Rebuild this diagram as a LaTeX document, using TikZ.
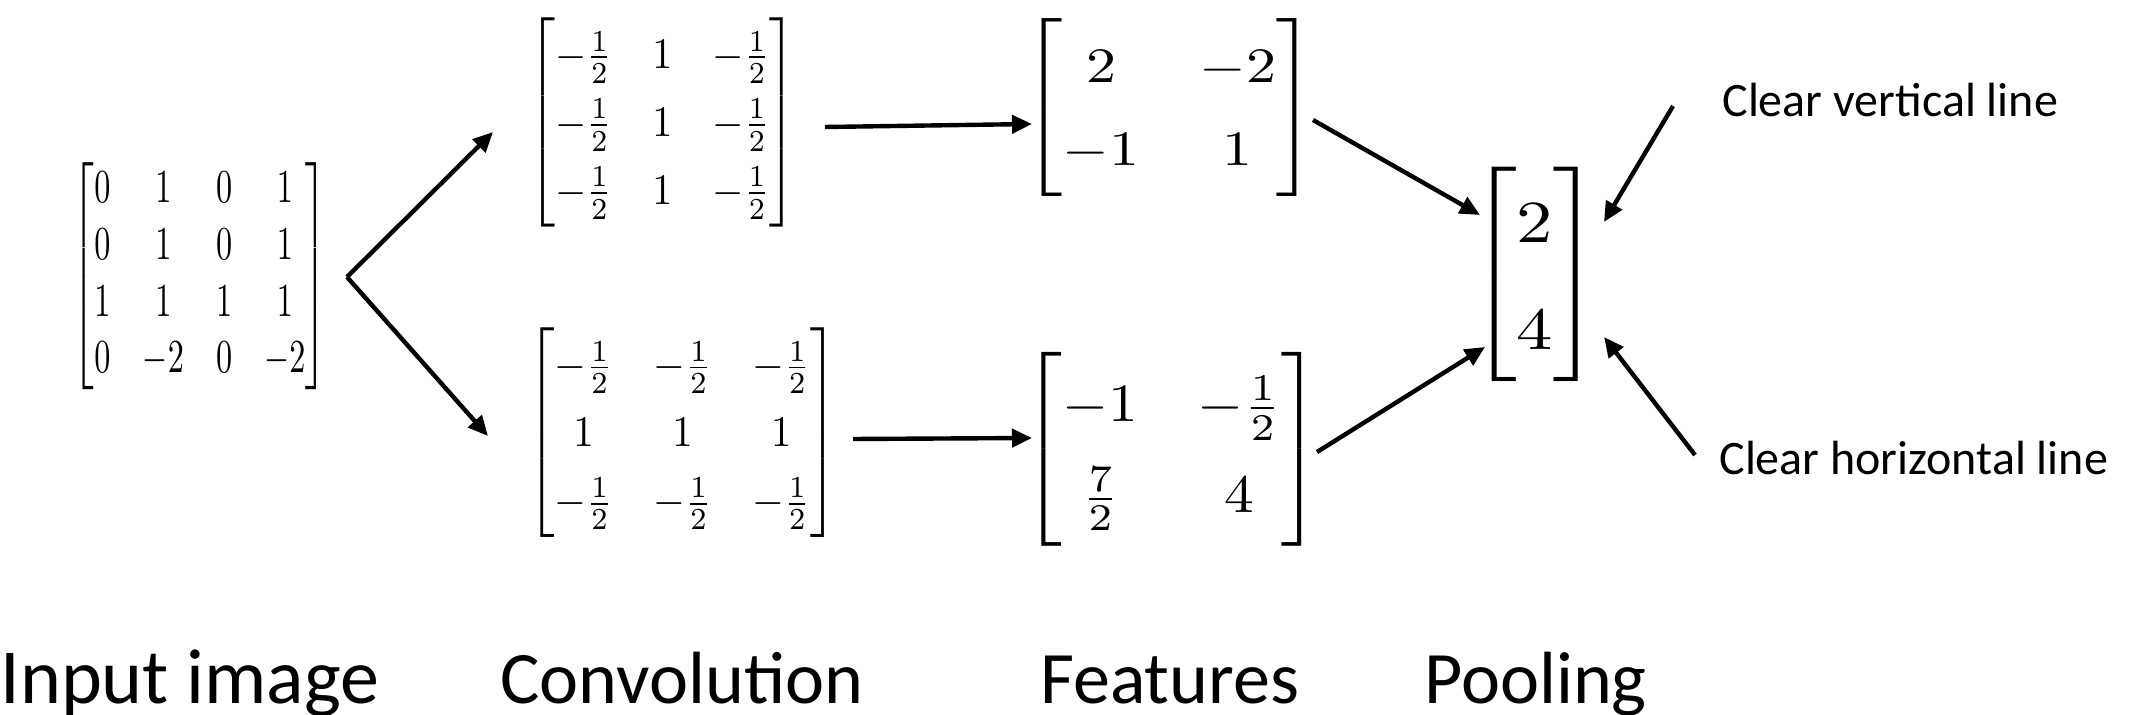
\documentclass[tikz,border=0pt]{standalone}
\usepackage{amsmath}
\usepackage{graphicx}
\usepackage{fontspec}
\newfontfamily\labelfont{Carlito}
\usetikzlibrary{arrows.meta,calc}

% a matrix scaled to a fixed outer size: width, total height, row stretch, body
\newcommand{\fitmat}[4]{\resizebox*{#1}{#2}{\renewcommand{\arraystretch}{#3}$\begin{bmatrix}#4\end{bmatrix}$}}

\begin{document}
\begin{tikzpicture}[x=0.5pt,y=-0.5pt,
  mat/.style={inner sep=0pt, outer sep=0pt},
  arr/.style={line width=2.2pt, -{Triangle[length=10pt,width=9pt]}},
  note/.style={inner sep=0pt, anchor=base west, font=\labelfont\fontsize{24}{28}\selectfont},
  stage/.style={inner sep=0pt, anchor=base west, font=\labelfont\fontsize{37}{44}\selectfont},
]
\useasboundingbox (0,0) rectangle (2136,715);

% input image
\node[mat] (inp) at (200,276.5)
  {\fitmat{127pt}{113.5pt}{1}{0&1&0&1\\0&1&0&1\\1&1&1&1\\0&-2&0&-2}};

% convolution kernels
\node[mat] (conv1) at (662.5,122.5)
  {\fitmat{134pt}{104.5pt}{1.3}{-\frac{1}{2}&1&-\frac{1}{2}\\-\frac{1}{2}&1&-\frac{1}{2}\\-\frac{1}{2}&1&-\frac{1}{2}}};
\node[mat] (conv2) at (682.5,433)
  {\fitmat{155pt}{105pt}{1.3}{-\frac{1}{2}&-\frac{1}{2}&-\frac{1}{2}\\1&1&1\\-\frac{1}{2}&-\frac{1}{2}&-\frac{1}{2}}};

% feature maps
\node[mat] (feat1) at (1169.5,107.5)
  {\fitmat{146.5pt}{89pt}{1.4}{2&-2\\-1&1}};
\node[mat] (feat2) at (1172,449)
  {\fitmat{149pt}{97pt}{1.4}{-1&-\frac{1}{2}\\\frac{7}{2}&4}};

% pooled result
\node[mat] (pool) at (1535,274.5)
  {\fitmat{66.5pt}{107.5pt}{1.5}{2\\4}};

% annotations
\node[note] (vnote) at (1722,117) {Clear vertical line};
\node[note] (hnote) at (1719,475) {Clear horizontal line};

% stage captions
\node[stage, font=\labelfont\fontsize{39}{46}\selectfont] (cap1) at (0,703) {Input image};
\node[stage] (cap2) at (500,703) {Convolution};
\node[stage] (cap3) at (1040,703) {Features};
\node[stage] (cap4) at (1424,703) {Pooling};

% connectors
\draw[arr] ($(inp.center)+(147,0.5)$) -- ($(conv1.center)+(-169.5,9.5)$);
\draw[arr] ($(inp.center)+(147,0.5)$) -- ($(conv2.center)+(-194.5,3)$);
\draw[arr] ($(conv1.center)+(162.5,4.5)$) -- ($(feat1.center)+(-137.5,16.5)$);
\draw[arr] ($(conv2.center)+(170.5,6)$) -- ($(feat2.center)+(-140,-11)$);
\draw[arr] ($(feat1.center)+(143.5,12.5)$) -- ($(pool.center)+(-55,-59.5)$);
\draw[arr] ($(feat2.center)+(145,3)$) -- ($(pool.center)+(-50,72.5)$);
\draw[arr] ($(vnote.base west)+(-49,-11)$) -- ($(pool.center)+(69,-52.5)$);
\draw[arr] ($(hnote.base west)+(-24,-20)$) -- ($(pool.center)+(69,62.5)$);
\end{tikzpicture}
\end{document}
